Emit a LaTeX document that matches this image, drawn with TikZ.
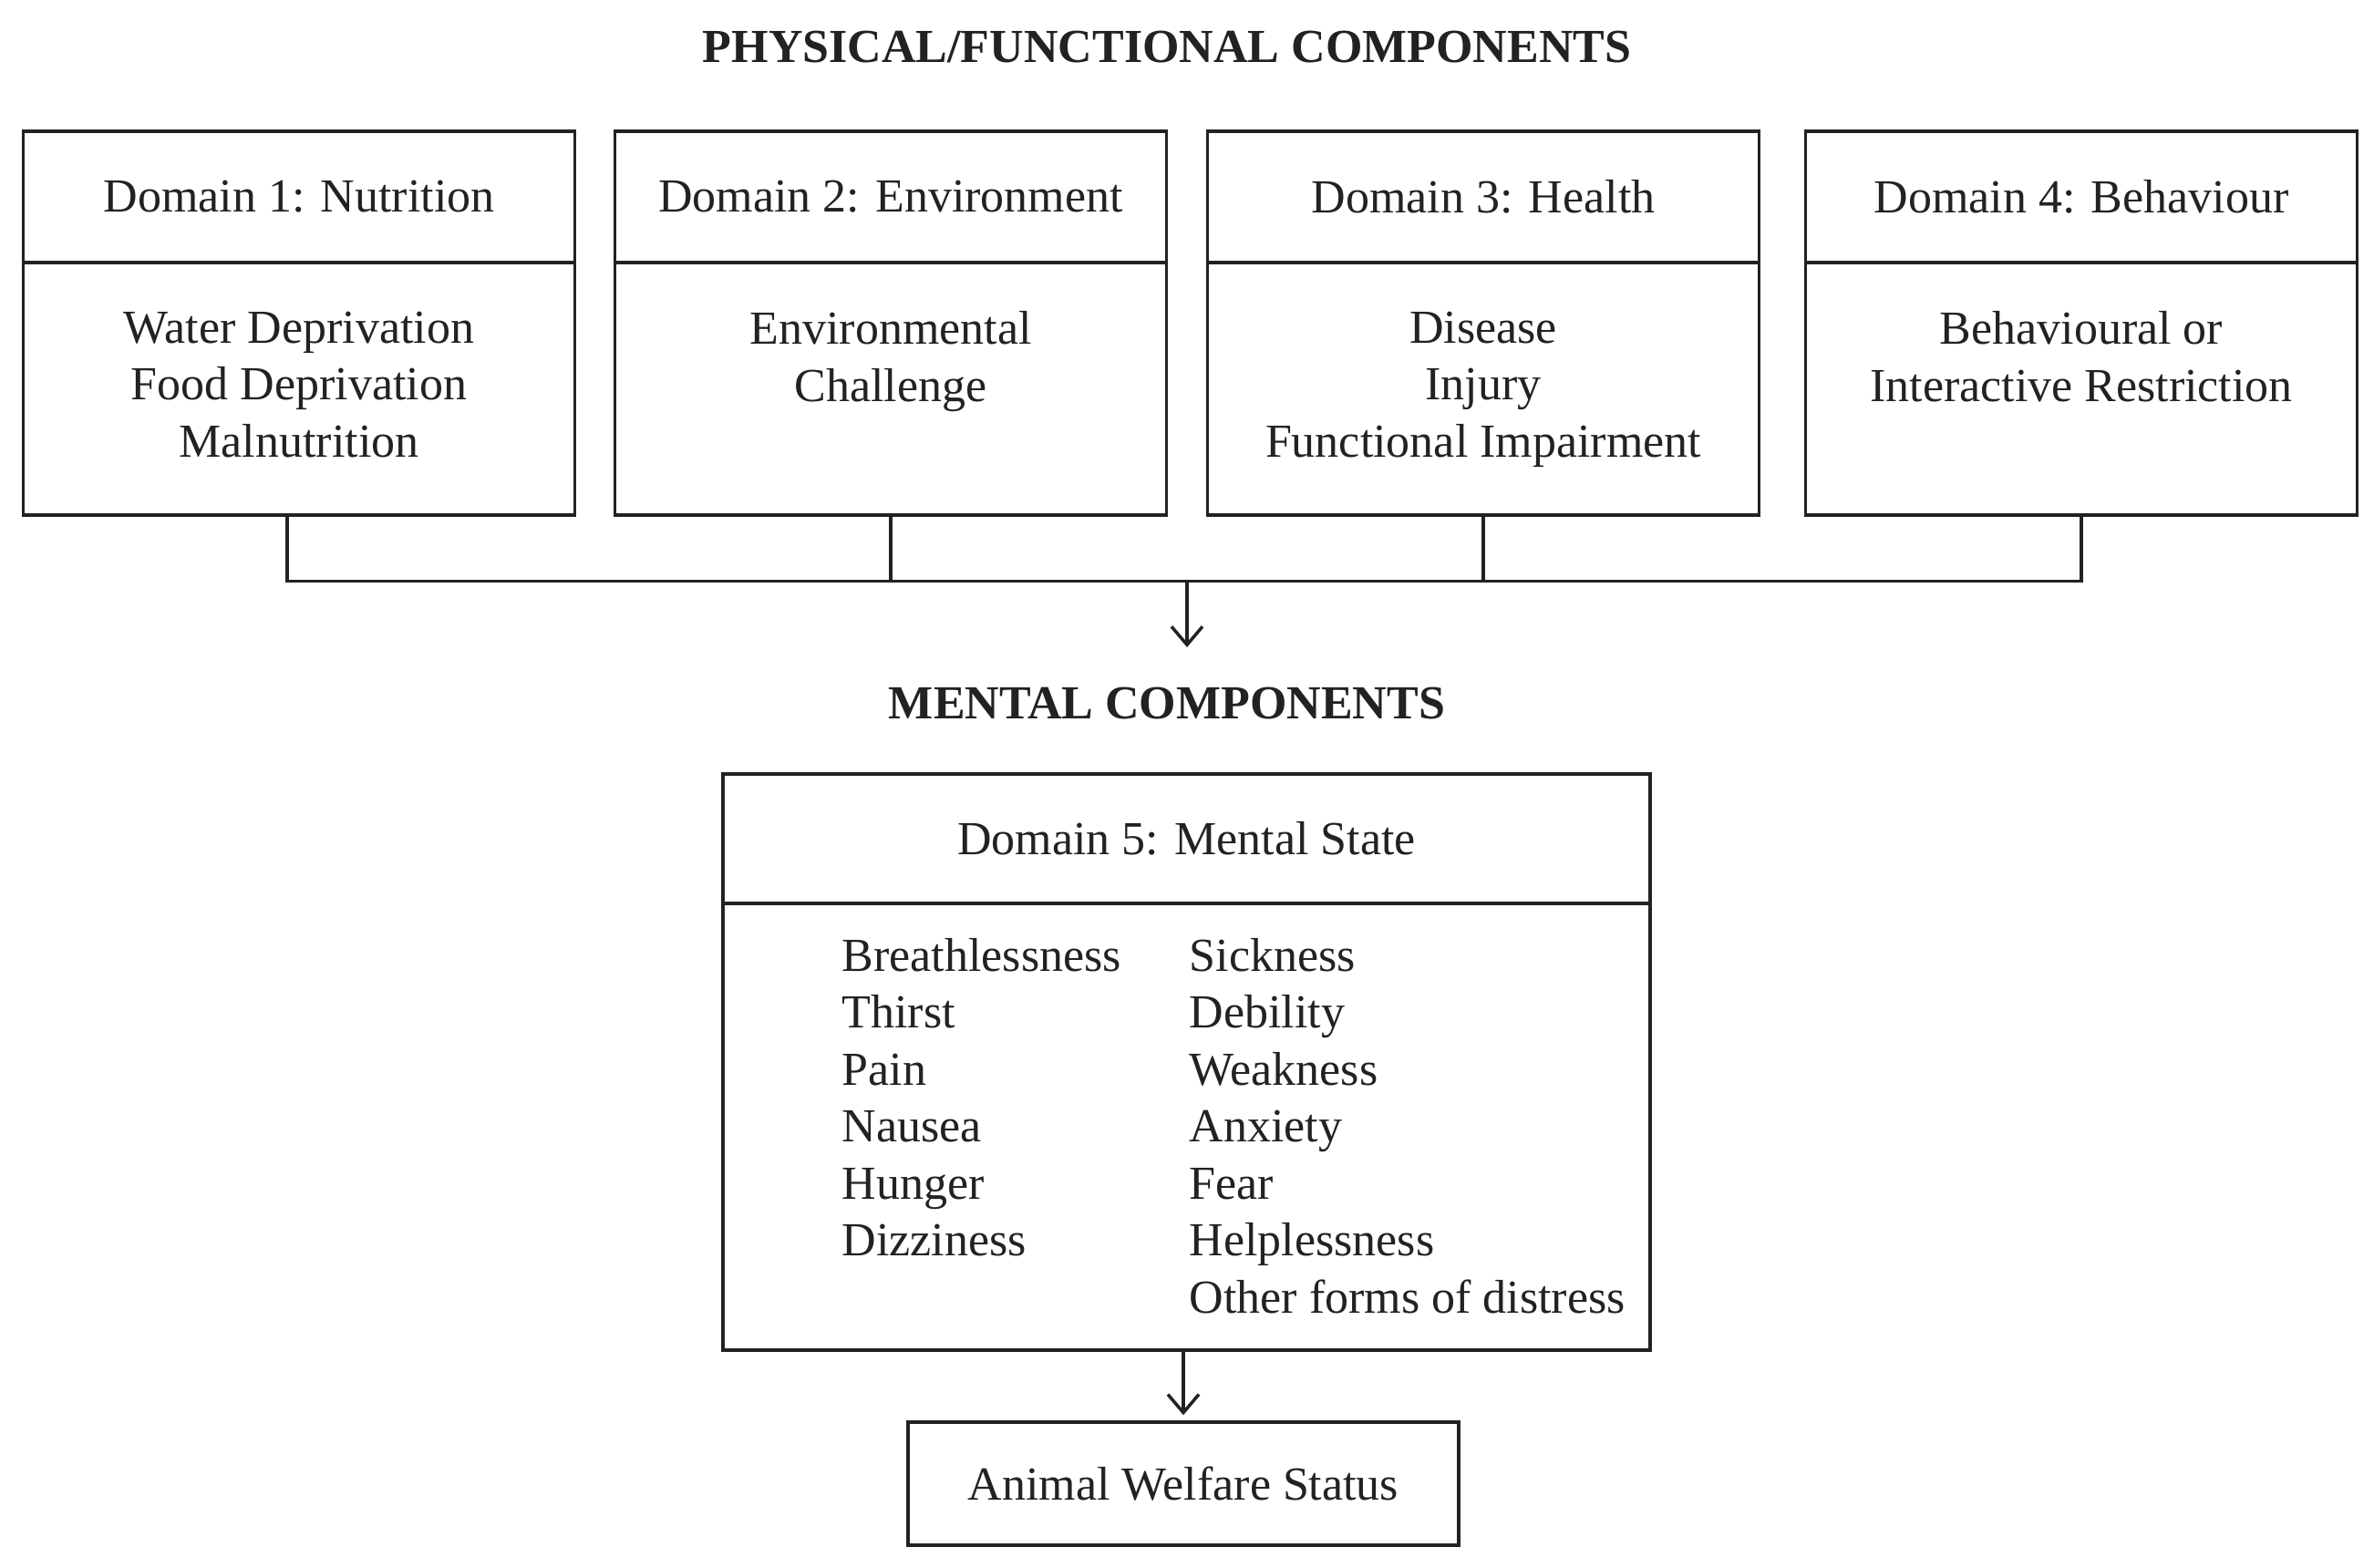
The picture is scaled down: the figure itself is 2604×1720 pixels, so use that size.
\documentclass[tikz,border=0pt]{standalone}
\usepackage{fontspec}
\setmainfont{Liberation Serif}
\usetikzlibrary{arrows.meta}
\definecolor{ink}{HTML}{222222}
\begin{document}
\begin{tikzpicture}[x=1pt,y=-1pt,line width=3.5pt,draw=ink,text=ink,
  every node/.style={font=\fontsize{52}{62.5}\selectfont},
  box/.style={draw=ink,rectangle,inner sep=0pt,minimum width=605pt},
  head/.style={box,minimum height=144pt},
  bodybox/.style={box,minimum height=277pt},
  txt/.style={inner sep=0pt,align=center,anchor=north},
  ttl/.style={inner sep=0pt,anchor=base,font=\fontsize{52}{62.5}\selectfont\bfseries},
  arr/.style={-{Straight Barb[length=20pt,width=34pt]}}]
\useasboundingbox (0,0) rectangle (2604,1720);
\fill[white] (0,0) rectangle (2604,1720);

\node[ttl] (ttlphys) at (1280,69) {PHYSICAL/FUNCTIONAL COMPONENTS};

% domain boxes
\node[head] (h1) at (328,216) {Domain 1: Nutrition};
\node[bodybox] (body1) at (328,426.5) {};
\node[txt] (t1) at (328,340) {Water Deprivation\\Food Deprivation\\Malnutrition};

\node[head] (h2) at (977,216) {Domain 2: Environment};
\node[bodybox] (body2) at (977,426.5) {};
\node[txt] (t2) at (977,340) {Environmental\\Challenge};

\node[head] (h3) at (1627,216) {Domain 3: Health};
\node[bodybox] (body3) at (1627,426.5) {};
\node[txt] (t3) at (1627,340) {Disease\\Injury\\Functional Impairment};

\node[head] (h4) at (2283,216) {Domain 4: Behaviour};
\node[bodybox] (body4) at (2283,426.5) {};
\node[txt] (t4) at (2283,340) {Behavioural or\\Interactive Restriction};

% bus connector
\coordinate (bus) at (0,637.5);
\coordinate (tip1) at (1302,710);
\draw ([xshift=-13pt]body1.south) -- ([xshift=-13pt]body1.south |- bus) -- (body4.south |- bus) -- (body4.south);
\draw (body2.south) -- (body2.south |- bus);
\draw (body3.south) -- (body3.south |- bus);
\draw[arr] (tip1 |- bus) -- (tip1);

\node[ttl] (ttlment) at (1280,788) {MENTAL COMPONENTS};

% domain 5
\node[box,minimum width=1017pt,minimum height=142pt] (h5) at (1301.5,920) {Domain 5: Mental State};
\node[box,minimum width=1017pt,minimum height=490pt] (body5) at (1301.5,1236) {};
\node[inner sep=0pt,align=left,anchor=north west] (c1) at (922,1027.5)
  {Breathlessness\\Thirst\\Pain\\Nausea\\Hunger\\Dizziness};
\node[inner sep=0pt,align=left,anchor=north west] (c2) at (1303,1027.5)
  {Sickness\\Debility\\Weakness\\Anxiety\\Fear\\Helplessness\\Other forms of distress};

% welfare
\node[box,minimum width=604pt,minimum height=135pt] (aws) at (1298,1627.5) {Animal Welfare Status};
\draw[arr] (body5.south -| aws.north) -- ([yshift=6pt]aws.north);
\end{tikzpicture}
\end{document}
